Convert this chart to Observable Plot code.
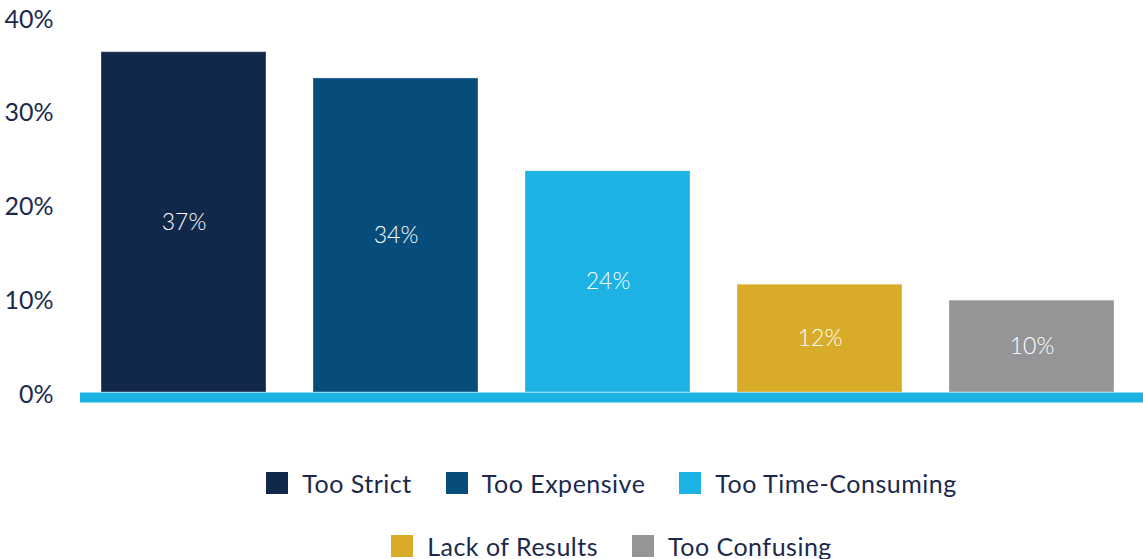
<!DOCTYPE html>
<html>
<head>
<meta charset="utf-8">
<script src="https://cdn.jsdelivr.net/npm/d3@7"></script>
<script src="https://cdn.jsdelivr.net/npm/@observablehq/plot@0.6"></script>
<style>
  html, body { margin: 0; padding: 0; background: #fff; }
  body { width: 1143px; height: 559px; overflow: hidden; font-family: Lato, "Open Sans", sans-serif; }
  #legend { margin-left: 80px; width: 1063px; color: #1b2a4b; font-size: 25px; letter-spacing: 0.5px; }
  .row { display: flex; justify-content: center; align-items: center; height: 22px; }
  .row1 { margin-top: 52px; }
  .row2 { margin-top: 41px; }
  .item { display: flex; align-items: center; margin: 0 17px; }
  .sw { width: 22px; height: 22px; margin-right: 14px; }
</style>
</head>
<body>
<div id="chart"></div>
<div id="legend"></div>
<script>
const categories = ["Too Strict", "Too Expensive", "Too Time-Consuming", "Lack of Results", "Too Confusing"];
const values = [36.3, 33.5, 23.6, 11.5, 9.8];
const labels = ["37%", "34%", "24%", "12%", "10%"];
const colors = ["#11284b", "#064d7b", "#1cb2e4", "#d8ab28", "#959598"];
const yTicks = [0, 10, 20, 30, 40];
const legendRows = [[0, 1, 2], [3, 4]];

const data = categories.map((c, i) => ({category: c, value: values[i], label: labels[i]}));

const chart = Plot.plot({
  width: 1143,
  height: 420,
  marginLeft: 78,
  marginRight: 5,
  marginTop: 17,
  marginBottom: 28,
  style: {fontFamily: "Lato, 'Open Sans', sans-serif", color: "#1b2a4b", background: "#fff"},
  x: {domain: categories, paddingInner: 0.22, paddingOuter: 0.11, axis: null},
  y: {domain: [0, 40], ticks: yTicks, tickFormat: d => d + "%", label: null},
  color: {domain: categories, range: colors},
  marks: [
    Plot.axisY({ticks: yTicks, tickFormat: d => d + "%", tickSize: 0, tickPadding: 25, fontSize: 25, dy: 2, label: null, fill: "#1b2a4b"}),
    Plot.barY(data, {x: "category", y: "value", fill: "category", stroke: "#ffffff", strokeOpacity: 0.35, strokeWidth: 1}),
    Plot.text(data, {x: "category", y: d => d.value / 2, text: "label", fill: "white", fontSize: 23, fontWeight: 300, letterSpacing: 0.5}),
    Plot.ruleY([0], {stroke: "#1cb2e4", strokeWidth: 10, dy: 5, insetRight: -5, insetLeft: 2})
  ]
});
document.getElementById("chart").appendChild(chart);

const legend = document.getElementById("legend");
legendRows.forEach((row, r) => {
  const div = document.createElement("div");
  div.className = "row " + (r === 0 ? "row1" : "row2");
  row.forEach(i => {
    const item = document.createElement("div");
    item.className = "item";
    const sw = document.createElement("span");
    sw.className = "sw";
    sw.style.background = colors[i];
    const t = document.createElement("span");
    t.textContent = categories[i];
    item.appendChild(sw);
    item.appendChild(t);
    div.appendChild(item);
  });
  legend.appendChild(div);
});
</script>
</body>
</html>
